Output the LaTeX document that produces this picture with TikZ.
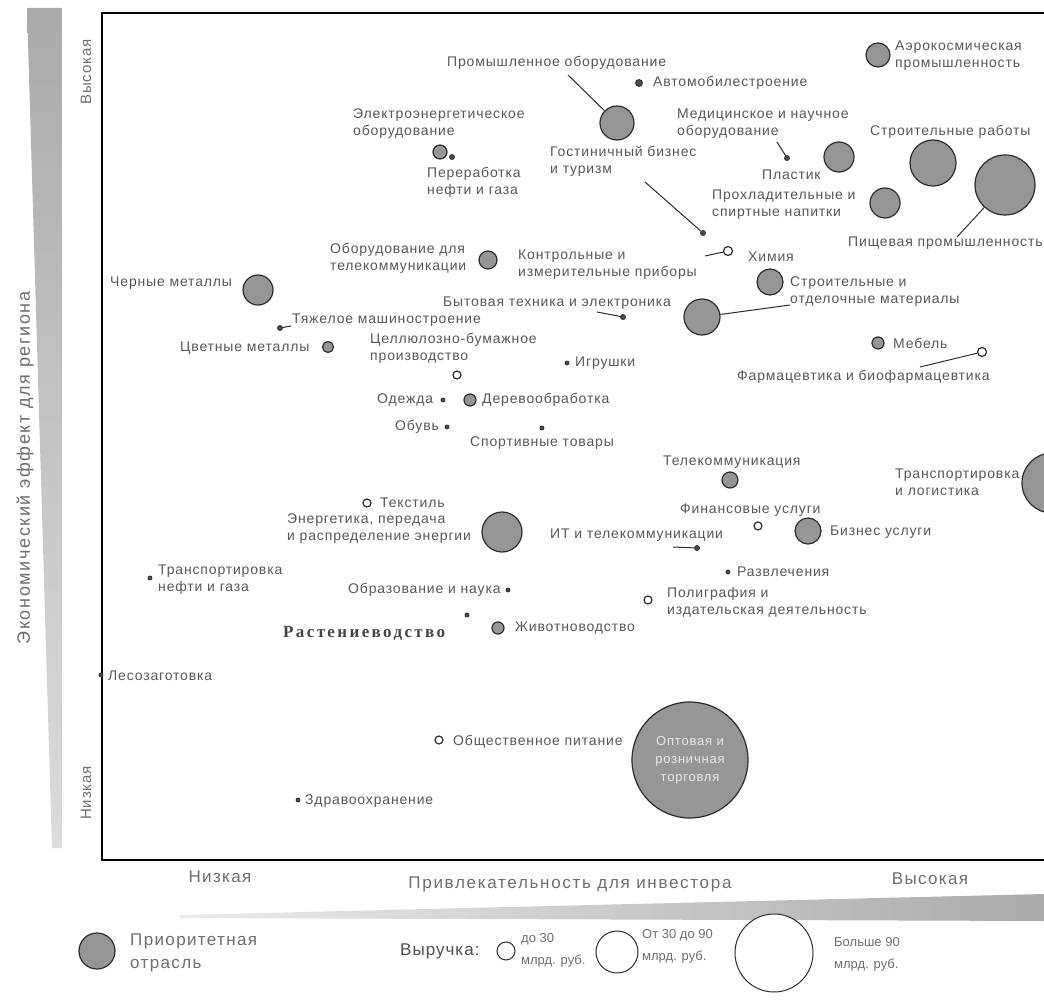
\documentclass[tikz,border=0pt]{standalone}
\usepackage{fontspec}
\setmainfont{Liberation Sans}
\newfontfamily\serifrus{Liberation Serif}
\definecolor{lbl}{RGB}{88,88,88}
\definecolor{pfill}{RGB}{150,150,150}
\definecolor{edgec}{RGB}{45,45,45}
\definecolor{axc}{RGB}{110,110,110}
\begin{document}
\begin{tikzpicture}[x=1pt,y=-1pt,
  lab/.style={anchor=west, inner sep=0pt, align=left, text=lbl,
    font=\fontsize{14}{17}\selectfont\addfontfeatures{LetterSpace=6}},
  axl/.style={inner sep=0pt, text=axc,
    font=\fontsize{17}{20}\selectfont\addfontfeatures{LetterSpace=8}},
  legl/.style={anchor=west, inner sep=0pt, align=left, text=axc,
    font=\fontsize{17}{23}\selectfont\addfontfeatures{LetterSpace=8}},
  legs/.style={anchor=west, inner sep=0pt, align=left, text=axc,
    font=\fontsize{13}{22}\selectfont},
  prio/.style={circle, draw=edgec, fill=pfill, line width=1.2pt, inner sep=0pt},
  ring/.style={circle, draw=edgec, fill=white, line width=1.2pt, inner sep=0pt},
  lring/.style={circle, draw=edgec, fill=white, line width=1pt, inner sep=0pt},
  dot/.style={circle, draw=edgec, fill=gray!60!black, line width=0.8pt, inner sep=0pt, minimum size=5pt},
  leader/.style={draw=edgec, line width=1pt},
  frame/.style={draw=black, line width=2pt}
]
\useasboundingbox (0,0) rectangle (1044,1000);
\clip (0,0) rectangle (1044,1000);
\fill[white] (0,0) rectangle (1044,1000);

% gradient wedges
\shade[top color={rgb,255:red,170;green,170;blue,170}, bottom color={rgb,255:red,220;green,220;blue,220}]
  (27,8) -- (62,8) -- (62,848) -- (52,848) -- cycle;
\shade[left color={rgb,255:red,235;green,235;blue,235}, right color={rgb,255:red,170;green,170;blue,170}]
  (180,915) -- (1044,894) -- (1044,921) -- (180,918) -- cycle;

% frame
\draw[frame] (1044,13) -- (102,13) -- (102,860) -- (1044,860);

% axis labels
\node[axl, rotate=90, font=\fontsize{18}{20}\selectfont\addfontfeatures{LetterSpace=9}] (ytitle) at (25,468) {Экономический эффект для региона};
\node[axl, rotate=90, font=\fontsize{15}{18}\selectfont\addfontfeatures{LetterSpace=5}] (yhigh) at (86,72) {Высокая};
\node[axl, rotate=90, font=\fontsize{15}{18}\selectfont\addfontfeatures{LetterSpace=5}] (ylow) at (86,793) {Низкая};
\node[axl] (xlow) at (220,877) {Низкая};
\node[axl, font=\fontsize{17}{20}\selectfont\addfontfeatures{LetterSpace=10}] (xtitle) at (570,884) {Привлекательность для инвестора};
\node[axl] (xhigh) at (930,879) {Высокая};

% ---- plot items ----
\node[lab] (t1) at (447,63) {Промышленное оборудование};
\node[prio, minimum size=34pt] (c1) at (617,123) {};
\coordinate (l1) at (568,75);
\draw[leader] (l1) -- (c1);

\node[dot, minimum size=7pt] (d2) at (639,83) {};
\node[lab] (t2) at (653,83) {Автомобилестроение};

\node[lab] (t3) at (353,123.5) {Электроэнергетическое\\оборудование};
\node[prio, minimum size=14pt] (c3) at (440,152) {};
\node[dot] (d5) at (452,157) {};
\node[lab] (t5) at (427,182) {Переработка\\нефти и газа};

\node[lab] (t7) at (550,161) {Гостиничный бизнес\\и туризм};
\coordinate (l7) at (645,182);
\node[dot] (d7) at (703,233) {};
\draw[leader] (l7) -- (d7);

\node[lab] (t8) at (677,123.5) {Медицинское и научное\\оборудование};
\coordinate (l8) at (777,142);
\node[dot] (d8) at (787,158) {};
\draw[leader] (l8) -- (d8);

\node[lab] (t9) at (762,175) {Пластик};
\node[prio, minimum size=30pt] (c9) at (839,157) {};

\node[prio, minimum size=24pt] (c11) at (878,55) {};
\node[lab] (t11) at (895,56) {Аэрокосмическая\\промышленность};

\node[lab] (t12) at (870,132) {Строительные работы};
\node[prio, minimum size=46pt] (c12) at (933,163) {};

\node[prio, minimum size=60pt] (c13) at (1005,185) {};
\node[lab] (t13) at (848,243) {Пищевая промышленность};
\coordinate (l13) at (957,237);
\draw[leader] (l13) -- (c13);

\node[lab] (t14) at (712,204.5) {Прохладительные и\\спиртные напитки};
\node[prio, minimum size=30pt] (c14) at (885,203) {};

\node[ring, minimum size=9pt] (r15) at (728,251) {};
\coordinate (l15) at (705,256);
\draw[leader] (l15) -- (r15);
\node[lab] (t15) at (748,257) {Химия};

\node[prio, minimum size=26pt] (c16) at (770,282) {};
\node[lab] (t16) at (790,292) {Строительные и\\отделочные материалы};

\node[lab] (t17) at (330,258.5) {Оборудование для\\телекоммуникации};
\node[prio, minimum size=18pt] (c17) at (488,260) {};

\node[lab] (t18) at (518,264.5) {Контрольные и\\измерительные приборы};

\node[lab] (t19) at (110,283) {Черные металлы};
\node[prio, minimum size=30pt] (c19) at (258,290) {};

\node[lab] (t20) at (443,303) {Бытовая техника и электроника};
\coordinate (l20) at (597,312);
\node[dot] (d20) at (623,317) {};
\draw[leader] (l20) -- (d20);

\node[prio, minimum size=36pt] (c21) at (702,317) {};
\coordinate (l21) at (790,305);
\draw[leader] (c21) -- (l21);

\node[dot] (d22) at (280,328) {};
\coordinate (l22) at (291,326);
\draw[leader] (d22) -- (l22);
\node[lab] (t22) at (292,320) {Тяжелое машиностроение};

\node[lab] (t23) at (180,348) {Цветные металлы};
\node[prio, minimum size=11pt] (c23) at (328,347) {};

\node[lab] (t24) at (370,348) {Целлюлозно-бумажное\\производство};
\node[ring, minimum size=8pt] (r24) at (457,375) {};

\node[dot, minimum size=4pt] (d25) at (567,363) {};
\node[lab] (t25) at (575,363) {Игрушки};

\node[lab] (t26) at (377,400) {Одежда};
\node[dot, minimum size=4pt] (d26) at (443,400) {};

\node[prio, minimum size=12pt] (c27) at (470,400) {};
\node[lab] (t27) at (482,400) {Деревообработка};

\node[lab] (t28) at (395,427) {Обувь};
\node[dot, minimum size=4pt] (d28) at (447,427) {};

\node[dot, minimum size=4pt] (d29) at (542,428) {};
\node[lab] (t29) at (470,443) {Спортивные товары};

\node[prio, minimum size=12pt] (c30) at (878,343) {};
\node[lab] (t30) at (893,343) {Мебель};

\node[ring, minimum size=9pt] (r31) at (982,352) {};
\coordinate (l31) at (920,367);
\draw[leader] (l31) -- (r31);
\node[lab] (t31) at (737,377) {Фармацевтика и биофармацевтика};

\node[lab] (t32) at (663,462) {Телекоммуникация};
\node[prio, minimum size=16pt] (c32) at (730,480) {};

\node[lab] (t33) at (895,482.5) {Транспортировка\\и логистика};
\node[prio, minimum size=60pt] (c33) at (1052,483) {};

\node[lab] (t34) at (680,510) {Финансовые услуги};
\node[ring, minimum size=8pt] (r34) at (758,526) {};

\node[prio, minimum size=26pt] (c35) at (808,531) {};
\node[lab] (t35) at (830,532) {Бизнес услуги};

\node[lab] (t36) at (550,535) {ИТ и телекоммуникации};
\coordinate (l36) at (673,547);
\node[dot] (d36) at (697,548) {};
\draw[leader] (l36) -- (d36);

\node[dot, minimum size=4pt] (d37) at (728,572) {};
\node[lab] (t37) at (737,572) {Развлечения};

\node[ring, minimum size=8pt] (r38) at (648,600) {};
\node[lab] (t38) at (667,602.5) {Полиграфия и\\издательская деятельность};

\node[ring, minimum size=8pt] (r39) at (367,503) {};
\node[lab] (t39) at (380,503) {Текстиль};

\node[lab] (t40) at (287,528.5) {Энергетика, передача\\и распределение энергии};
\node[prio, minimum size=40pt] (c40) at (502,532) {};

\node[dot, minimum size=4pt] (d41) at (150,578) {};
\node[lab] (t41) at (158,579.5) {Транспортировка\\нефти и газа};

\node[lab] (t42) at (348,590) {Образование и наука};
\node[dot, minimum size=4pt] (d42) at (508,590) {};

\node[dot, minimum size=4pt] (d43) at (467,615) {};
\node[anchor=west, inner sep=0pt, text={rgb,255:red,70;green,70;blue,70},
  font=\serifrus\bfseries\fontsize{17}{19}\selectfont\addfontfeatures{LetterSpace=14}] (t43) at (283,633) {Растениеводство};

\node[prio, minimum size=12pt] (c44) at (498,628) {};
\node[lab] (t44) at (515,628) {Животноводство};

\node[dot, minimum size=4pt] (d45) at (101,675) {};
\node[lab] (t45) at (108,676) {Лесозаготовка};

\node[ring, minimum size=8pt] (r46) at (439,740) {};
\node[lab] (t46) at (453,742) {Общественное питание};

\node[prio, minimum size=116pt, align=center, text={rgb,255:red,232;green,232;blue,232},
  font=\fontsize{13}{18}\selectfont\addfontfeatures{LetterSpace=6}] (c47) at (690,760) {Оптовая и\\розничная\\торговля};

\node[dot, minimum size=4pt] (d48) at (298,800) {};
\node[lab] (t48) at (305,801) {Здравоохранение};

% ---- legend ----
\node[prio, minimum size=36pt] (lg1) at (97,951) {};
\node[legl] (lgt1) at (130,953) {Приоритетная\\отрасль};
\node[legl, text={rgb,255:red,80;green,80;blue,80}, font=\fontsize{17}{20}\selectfont\addfontfeatures{LetterSpace=6}] (lgt2) at (400,951) {Выручка:};
\node[lring, minimum size=18pt] (lg2) at (506,951) {};
\node[legs] (lgt3) at (521,950) {до 30\\млрд. руб.};
\node[lring, minimum size=42pt] (lg3) at (617,952) {};
\node[legs] (lgt4) at (642,946) {От 30 до 90\\млрд. руб.};
\node[lring, minimum size=78pt] (lg4) at (774,953) {};
\node[legs] (lgt5) at (834,954) {Больше 90\\млрд. руб.};
\end{tikzpicture}
\end{document}
